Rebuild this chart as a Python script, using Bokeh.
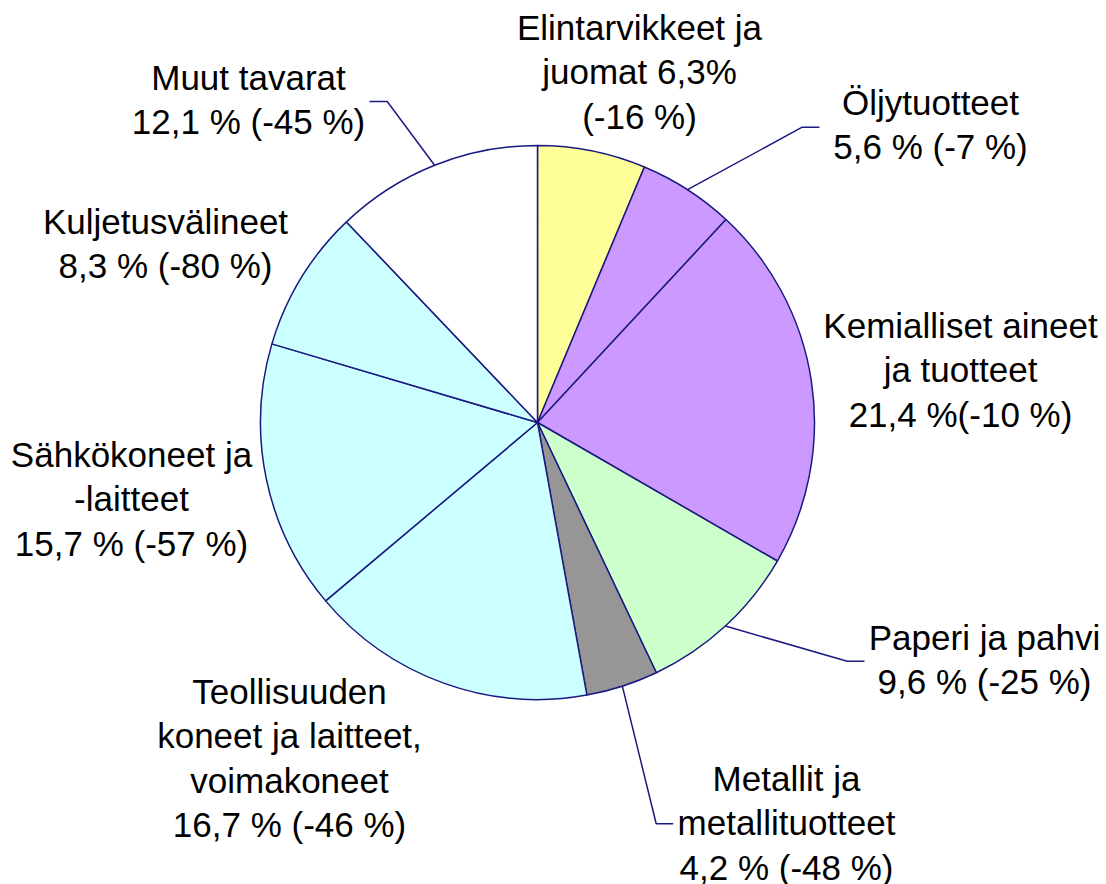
import math
from bokeh.plotting import figure
from bokeh.models import Range1d, ColumnDataSource
from bokeh.core.properties import value
from bokeh.embed import file_html
from bokeh.resources import INLINE

# ---- data ----
categories = [
    "Elintarvikkeet ja juomat",
    "Öljytuotteet",
    "Kemialliset aineet ja tuotteet",
    "Paperi ja pahvi",
    "Metallit ja metallituotteet",
    "Teollisuuden koneet ja laitteet, voimakoneet",
    "Sähkökoneet ja -laitteet",
    "Kuljetusvälineet",
    "Muut tavarat",
]
shares = [6.3, 5.6, 21.4, 9.6, 4.2, 16.7, 15.7, 8.3, 12.1]
labels = [
    ["Elintarvikkeet ja", "juomat 6,3%", "(-16 %)"],
    ["Öljytuotteet", "5,6 % (-7 %)"],
    ["Kemialliset aineet", "ja tuotteet", "21,4 %(-10 %)"],
    ["Paperi ja pahvi", "9,6 % (-25 %)"],
    ["Metallit ja", "metallituotteet", "4,2 % (-48 %)"],
    ["Teollisuuden", "koneet ja laitteet,", "voimakoneet", "16,7 % (-46 %)"],
    ["Sähkökoneet ja", "-laitteet", "15,7 % (-57 %)"],
    ["Kuljetusvälineet", "8,3 % (-80 %)"],
    ["Muut tavarat", "12,1 % (-45 %)"],
]
colors = ["#FFFF99", "#CC99FF", "#CC99FF", "#CCFFCC", "#969696",
          "#CCFFFF", "#CCFFFF", "#CCFFFF", "#FFFFFF"]

# ---- layout (image pixel coordinates, y downward) ----
W, H = 1106, 884
CX, CY, R = 537, 422, 277
# label block: centre x, y of first line's cap centre
label_pos = [
    (639, 28), (930, 103), (960, 326), (984, 638), (786, 779),
    (289, 692), (131, 455), (165, 222), (248, 78),
]
LINE_H = 44.5
FONT_PX = 35
BASE_OFF = -1.5
# leader lines: elbow point and end point (for labelled outside slices)
leaders = {
    1: [(801.7, 126.7), (819, 126.7)],
    3: [(846.7, 660.7), (864, 660.7)],
    4: [(655.7, 823.3), (672.7, 823.3)],
    8: [(386.7, 101), (369, 101)],
}

def Y(v):
    return H - v

p = figure(width=W, height=H, output_backend="svg", toolbar_location=None,
           x_range=Range1d(0, W), y_range=Range1d(0, H),
           min_border=0)
p.axis.visible = False
p.grid.visible = False
p.outline_line_color = None
p.background_fill_color = "white"
p.border_fill_color = "white"

total = sum(shares)
cum = 0.0
starts, ends, mids = [], [], []
for s in shares:
    a0 = math.pi / 2 - 2 * math.pi * cum / total
    cum += s
    a1 = math.pi / 2 - 2 * math.pi * cum / total
    starts.append(a0)
    ends.append(a1)
    mids.append((a0 + a1) / 2)

src = ColumnDataSource(dict(x=[CX] * len(shares), y=[Y(CY)] * len(shares),
                            start=starts, end=ends, color=colors, cat=categories))
p.wedge(x="x", y="y", radius=R, start_angle="start", end_angle="end",
        direction="clock", fill_color="color", line_color="#1a1a80",
        line_width=1.5, source=src)

# leader lines
for i, pts in leaders.items():
    sx = CX + R * math.cos(mids[i])
    sy = Y(CY) + R * math.sin(mids[i])
    xs = [sx] + [q[0] for q in pts]
    ys = [sy] + [Y(q[1]) for q in pts]
    p.line(xs, ys, line_color="#1a1a80", line_width=1.5)

# labels
tx, ty, tt = [], [], []
for (lx, ly), lines in zip(label_pos, labels):
    for k, t in enumerate(lines):
        tx.append(lx)
        ty.append(Y(ly + k * LINE_H + BASE_OFF))
        tt.append(t)
p.text(x=tx, y=ty, text=tt, text_align="center", text_baseline="alphabetic",
       text_font=value("Liberation Sans"), text_font_size=f"{FONT_PX}px",
       text_color="black")

open("out.html", "w").write(file_html(p, INLINE))
